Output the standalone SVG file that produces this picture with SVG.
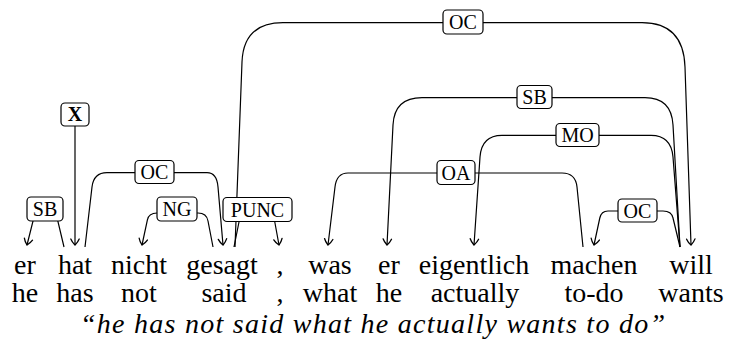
<svg xmlns="http://www.w3.org/2000/svg" width="731" height="343" viewBox="0 0 731 343">
<style>
.w{font-family:'Liberation Serif','DejaVu Serif',serif;font-size:28px;fill:#000;text-anchor:middle}
.it{font-family:'Liberation Serif','DejaVu Serif',serif;font-size:28px;font-style:italic;fill:#000;text-anchor:middle}
.lb{font-family:'Liberation Serif','DejaVu Serif',serif;font-size:20px;fill:#000;text-anchor:middle}
.box{fill:#fff;stroke:#000;stroke-width:1.2}
.e{fill:none;stroke:#000;stroke-width:1.2}
.a{marker-end:url(#arr)}
</style>
<defs>
<marker id="arr" markerUnits="userSpaceOnUse" markerWidth="14" markerHeight="14" viewBox="-8 -7 10 14" refX="0" refY="0" orient="auto">
<path d="M-6,-4.2 C-3,-3 -1,-1 0,0 C-1,1 -3,3 -6,4.2" fill="none" stroke="#000" stroke-width="1.3" stroke-linecap="round"/>
</marker>
</defs>
<g id="connectors">
<path class="e a" d="M75,126 L75,245"/>
<path class="e a" d="M64,247 L55,209 L36,209 L27,245"/>
<path class="e a" d="M85,247 L92,187 Q93.7,172.7 107,172.7 L207,172.7 Q216.8,172.7 218,187 L223,245"/>
<path class="e a" d="M213,247 L208,221 Q206.6,213 198,213 L157,213 Q148.6,213 147.4,220 L142,245"/>
<path class="e a" d="M234,247 L241.5,209.5 L272.5,209.5 L279,245"/>
<path class="e a" d="M235,247 L242,62 Q243.5,22.7 283,22.7 L642,22.7 Q683.5,22.7 685,67 L691,245"/>
<path class="e a" d="M680,247 L673,125 Q671.4,97.7 645,97.7 L422,97.7 Q394.4,97.7 393,125 L387,245"/>
<path class="e a" d="M680,247 L673,157 Q671.3,135.3 651,135.3 L502,135.3 Q481.5,135.3 480,157 L474,245"/>
<path class="e a" d="M583,247 L577,187 Q575.6,173 562,173 L348,173 Q336.6,173 335,187 L328,245"/>
<path class="e a" d="M680,247 L673,218 Q671.6,211 663,211 L608,211 Q601.3,211 599.8,218 L594,245"/>
</g>
<g id="label-X"><rect class="box" x="61" y="103" width="28" height="23" rx="4"/><text class="lb" x="75" y="121" font-weight="bold">X</text></g>
<g id="label-SB1"><rect class="box" x="27" y="197" width="36" height="24" rx="4"/><text class="lb" x="45" y="216">SB</text></g>
<g id="label-OC1"><rect class="box" x="135" y="160.5" width="39" height="23" rx="4"/><text class="lb" x="154.5" y="179">OC</text></g>
<g id="label-NG"><rect class="box" x="157" y="197" width="40" height="24" rx="4"/><text class="lb" x="177" y="216">NG</text></g>
<g id="label-PUNC"><rect class="box" x="223" y="197.5" width="69" height="24" rx="4"/><text class="lb" x="257.5" y="216.5">PUNC</text></g>
<g id="label-OC2"><rect class="box" x="443" y="10" width="40" height="24" rx="4"/><text class="lb" x="463" y="29">OC</text></g>
<g id="label-SB2"><rect class="box" x="517" y="85.5" width="35" height="23" rx="4"/><text class="lb" x="534.5" y="104">SB</text></g>
<g id="label-MO"><rect class="box" x="556" y="123.5" width="43" height="23" rx="4"/><text class="lb" x="577.5" y="142">MO</text></g>
<g id="label-OA"><rect class="box" x="437" y="160.5" width="38" height="24" rx="4"/><text class="lb" x="456" y="179.5">OA</text></g>
<g id="label-OC3"><rect class="box" x="618" y="199" width="39" height="23" rx="4"/><text class="lb" x="637.5" y="217.5">OC</text></g>
<g id="w1"><text class="w" x="25" y="274">er</text><text class="w" x="25" y="302">he</text></g>
<g id="w2"><text class="w" x="75" y="274">hat</text><text class="w" x="75" y="302">has</text></g>
<g id="w3"><text class="w" x="139" y="274">nicht</text><text class="w" x="139" y="302">not</text></g>
<g id="w4"><text class="w" x="222" y="274">gesagt</text><text class="w" x="224" y="302">said</text></g>
<g id="w5"><text class="w" x="280" y="274">,</text><text class="w" x="280" y="302">,</text></g>
<g id="w6"><text class="w" x="330" y="274">was</text><text class="w" x="330" y="302">what</text></g>
<g id="w7"><text class="w" x="389" y="274">er</text><text class="w" x="389" y="302">he</text></g>
<g id="w8"><text class="w" x="474" y="274">eigentlich</text><text class="w" x="475" y="302">actually</text></g>
<g id="w9"><text class="w" x="594" y="274">machen</text><text class="w" x="594" y="302">to-do</text></g>
<g id="w10"><text class="w" x="691" y="274">will</text><text class="w" x="691" y="302">wants</text></g>
<text class="it" x="372.5" y="333" textLength="585" lengthAdjust="spacing">“he has not said what he actually wants to do”</text>
</svg>
